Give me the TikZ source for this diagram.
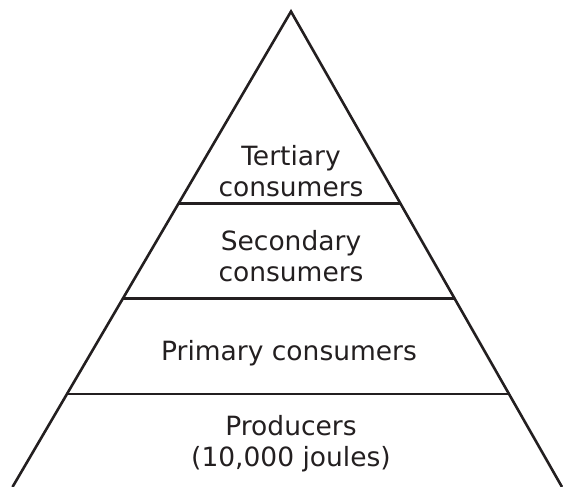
\documentclass[tikz,border=0pt]{standalone}
\usepackage{fontspec}
\setmainfont{DejaVu Sans}
\usetikzlibrary{calc}

\definecolor{ink}{RGB}{35,31,32}

\begin{document}
\begin{tikzpicture}[
    x=1pt,y=1pt,
    edge/.style={draw=ink,line width=2.6pt},
    label/.style={align=center,text=ink,inner sep=0pt,
      font=\fontsize{26.5}{31}\selectfont}
    ]

    \useasboundingbox (0,0) rectangle (563,487);

    \coordinate (apex) at (291,475.5);
    \coordinate (bl) at (12.5,0);
    \coordinate (br) at (562,0);

    \draw[edge,line join=miter] (bl) -- (apex) -- (br);

    \foreach \t/\n in {0.4034/a,0.604/b,0.8044/c} {
      \coordinate (l\n) at ($(apex)!\t!(bl)$);
      \coordinate (r\n) at ($(apex)!\t!(br)$);
      \draw[edge] (l\n) -- (r\n);
    }

    \node (tertiary) [label] at (291,316) {Tertiary\\consumers};
    \node (secondary) [label] at (291,231) {Secondary\\consumers};
    \node (primary) [label] at (289,134) {Primary consumers};
    \node (producers) [label] at (291,43) {Producers\\(10,000 joules)};

  \end{tikzpicture}
\end{document}
